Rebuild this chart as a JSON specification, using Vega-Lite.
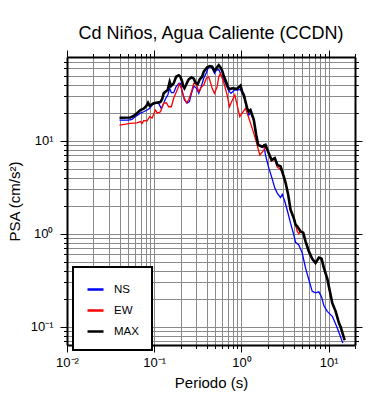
{
  "$schema": "https://vega.github.io/schema/vega-lite/v6.json",
  "width": 288,
  "height": 288,
  "autosize": {"type": "none"},
  "padding": {"left": 67, "top": 57, "right": 35, "bottom": 55},
  "background": "white",
  "title": {"text": "Cd Niños, Agua Caliente (CCDN)", "font": "Liberation Sans", "fontSize": 18, "fontWeight": "normal", "anchor": "middle", "offset": 7, "color": "black"},
  "datasets": {
    "psa": [
      {"s":"NS","T":0.040,"v":16.6},{"s":"NS","T":0.051,"v":16.6},{"s":"NS","T":0.0556,"v":16.9},{"s":"NS","T":0.0607,"v":18.1},{"s":"NS","T":0.0693,"v":19.7},{"s":"NS","T":0.0757,"v":20.4},{"s":"NS","T":0.0828,"v":21.3},{"s":"NS","T":0.0887,"v":22.2},{"s":"NS","T":0.0945,"v":24.1},{"s":"NS","T":0.103,"v":25.2},{"s":"NS","T":0.112,"v":25.2},{"s":"NS","T":0.120,"v":22.2},{"s":"NS","T":0.126,"v":24.1},{"s":"NS","T":0.134,"v":27.8},{"s":"NS","T":0.143,"v":30.9},{"s":"NS","T":0.150,"v":36.4},{"s":"NS","T":0.157,"v":32.7},{"s":"NS","T":0.167,"v":32.7},{"s":"NS","T":0.178,"v":37.9},{"s":"NS","T":0.191,"v":41.2},{"s":"NS","T":0.1995,"v":41.2},{"s":"NS","T":0.209,"v":33.5},{"s":"NS","T":0.222,"v":27.3},{"s":"NS","T":0.238,"v":25.2},{"s":"NS","T":0.253,"v":26.2},{"s":"NS","T":0.267,"v":32.2},{"s":"NS","T":0.284,"v":38.5},{"s":"NS","T":0.305,"v":36.4},{"s":"NS","T":0.324,"v":32.2},{"s":"NS","T":0.345,"v":37.9},{"s":"NS","T":0.369,"v":46.7},{"s":"NS","T":0.393,"v":52.7},{"s":"NS","T":0.414,"v":59.7},{"s":"NS","T":0.433,"v":63.2},{"s":"NS","T":0.461,"v":59.7},{"s":"NS","T":0.490,"v":52.7},{"s":"NS","T":0.516,"v":57.3},{"s":"NS","T":0.549,"v":58.0},{"s":"NS","T":0.584,"v":50.6},{"s":"NS","T":0.627,"v":44.8},{"s":"NS","T":0.669,"v":39.5},{"s":"NS","T":0.712,"v":34.4},{"s":"NS","T":0.758,"v":32.2},{"s":"NS","T":0.830,"v":34.9},{"s":"NS","T":0.893,"v":34.9},{"s":"NS","T":0.975,"v":35.5},{"s":"NS","T":1.063,"v":30.0},{"s":"NS","T":1.162,"v":22.0},{"s":"NS","T":1.213,"v":18.8},{"s":"NS","T":1.268,"v":20.0},{"s":"NS","T":1.384,"v":16.5},{"s":"NS","T":1.475,"v":11.5},{"s":"NS","T":1.555,"v":9.0},{"s":"NS","T":1.729,"v":8.6},{"s":"NS","T":1.803,"v":9.0},{"s":"NS","T":1.885,"v":7.0},{"s":"NS","T":2.057,"v":5.06},{"s":"NS","T":2.21,"v":4.11},{"s":"NS","T":2.41,"v":3.09},{"s":"NS","T":2.57,"v":2.73},{"s":"NS","T":2.80,"v":2.45},{"s":"NS","T":2.93,"v":2.65},{"s":"NS","T":3.14,"v":2.22},{"s":"NS","T":3.34,"v":1.8},{"s":"NS","T":3.65,"v":1.3},{"s":"NS","T":3.98,"v":0.975},{"s":"NS","T":4.17,"v":0.81},{"s":"NS","T":4.54,"v":0.76},{"s":"NS","T":4.97,"v":0.62},{"s":"NS","T":5.42,"v":0.43},{"s":"NS","T":5.92,"v":0.32},{"s":"NS","T":6.47,"v":0.241},{"s":"NS","T":7.06,"v":0.232},{"s":"NS","T":7.71,"v":0.238},{"s":"NS","T":8.28,"v":0.21},{"s":"NS","T":8.79,"v":0.17},{"s":"NS","T":9.62,"v":0.147},{"s":"NS","T":11.0,"v":0.13},{"s":"NS","T":12.5,"v":0.098},{"s":"NS","T":14.5,"v":0.067},
      {"s":"EW","T":0.040,"v":14.7},{"s":"EW","T":0.0532,"v":15.3},{"s":"EW","T":0.0635,"v":15.5},{"s":"EW","T":0.0693,"v":16.0},{"s":"EW","T":0.0724,"v":15.3},{"s":"EW","T":0.0757,"v":16.4},{"s":"EW","T":0.0828,"v":16.3},{"s":"EW","T":0.0887,"v":18.1},{"s":"EW","T":0.0945,"v":17.5},{"s":"EW","T":0.103,"v":21.3},{"s":"EW","T":0.109,"v":19.7},{"s":"EW","T":0.118,"v":20.4},{"s":"EW","T":0.128,"v":25.2},{"s":"EW","T":0.138,"v":25.5},{"s":"EW","T":0.146,"v":23.1},{"s":"EW","T":0.157,"v":23.1},{"s":"EW","T":0.167,"v":28.5},{"s":"EW","T":0.183,"v":34.9},{"s":"EW","T":0.195,"v":40.5},{"s":"EW","T":0.205,"v":36.4},{"s":"EW","T":0.218,"v":29.6},{"s":"EW","T":0.234,"v":25.5},{"s":"EW","T":0.248,"v":27.3},{"s":"EW","T":0.267,"v":33.5},{"s":"EW","T":0.284,"v":41.2},{"s":"EW","T":0.303,"v":40.5},{"s":"EW","T":0.324,"v":33.5},{"s":"EW","T":0.345,"v":37.3},{"s":"EW","T":0.369,"v":39.5},{"s":"EW","T":0.396,"v":46.7},{"s":"EW","T":0.420,"v":48.5},{"s":"EW","T":0.439,"v":42.9},{"s":"EW","T":0.461,"v":36.4},{"s":"EW","T":0.490,"v":32.2},{"s":"EW","T":0.526,"v":37.9},{"s":"EW","T":0.549,"v":48.5},{"s":"EW","T":0.574,"v":52.7},{"s":"EW","T":0.601,"v":46.7},{"s":"EW","T":0.638,"v":39.5},{"s":"EW","T":0.684,"v":31.0},{"s":"EW","T":0.729,"v":23.1},{"s":"EW","T":0.782,"v":27.0},{"s":"EW","T":0.838,"v":30.9},{"s":"EW","T":0.893,"v":24.0},{"s":"EW","T":0.955,"v":18.1},{"s":"EW","T":1.111,"v":22.2},{"s":"EW","T":1.213,"v":17.5},{"s":"EW","T":1.326,"v":13.6},{"s":"EW","T":1.475,"v":9.75},{"s":"EW","T":1.622,"v":7.0},{"s":"EW","T":1.803,"v":7.9},{"s":"EW","T":1.885,"v":8.6},{"s":"EW","T":2.057,"v":7.2},{"s":"EW","T":2.21,"v":6.0},{"s":"EW","T":2.41,"v":6.4},{"s":"EW","T":2.57,"v":5.2},{"s":"EW","T":2.80,"v":4.9},{"s":"EW","T":2.93,"v":4.6},{"s":"EW","T":3.20,"v":3.5},{"s":"EW","T":3.43,"v":2.6},{"s":"EW","T":3.65,"v":1.8},{"s":"EW","T":3.98,"v":1.45},{"s":"EW","T":4.17,"v":1.23},{"s":"EW","T":4.36,"v":1.06},{"s":"EW","T":4.54,"v":1.0},{"s":"EW","T":4.75,"v":1.05},{"s":"EW","T":5.10,"v":1.02},{"s":"EW","T":5.42,"v":0.83},{"s":"EW","T":5.67,"v":0.73},{"s":"EW","T":5.92,"v":0.647},{"s":"EW","T":6.47,"v":0.54},{"s":"EW","T":7.06,"v":0.485},{"s":"EW","T":7.71,"v":0.555},{"s":"EW","T":8.28,"v":0.54},{"s":"EW","T":8.79,"v":0.43},{"s":"EW","T":9.62,"v":0.33},{"s":"EW","T":10.3,"v":0.241},{"s":"EW","T":10.99,"v":0.18},{"s":"EW","T":12.0,"v":0.147},{"s":"EW","T":13.1,"v":0.11},{"s":"EW","T":13.7,"v":0.10},{"s":"EW","T":15.2,"v":0.072},
      {"s":"MAX","T":0.040,"v":17.6},{"s":"MAX","T":0.0532,"v":17.7},{"s":"MAX","T":0.0581,"v":18.4},{"s":"MAX","T":0.0635,"v":19.7},{"s":"MAX","T":0.0693,"v":21.3},{"s":"MAX","T":0.0757,"v":22.0},{"s":"MAX","T":0.0813,"v":23.6},{"s":"MAX","T":0.0849,"v":25.5},{"s":"MAX","T":0.0887,"v":23.6},{"s":"MAX","T":0.0986,"v":25.2},{"s":"MAX","T":0.1177,"v":26.0},{"s":"MAX","T":0.1230,"v":27.8},{"s":"MAX","T":0.1283,"v":32.2},{"s":"MAX","T":0.1342,"v":33.5},{"s":"MAX","T":0.1426,"v":34.9},{"s":"MAX","T":0.1503,"v":42.9},{"s":"MAX","T":0.156,"v":38.5},{"s":"MAX","T":0.167,"v":41.2},{"s":"MAX","T":0.178,"v":48.5},{"s":"MAX","T":0.191,"v":50.2},{"s":"MAX","T":0.1995,"v":48.5},{"s":"MAX","T":0.209,"v":42.9},{"s":"MAX","T":0.214,"v":38.5},{"s":"MAX","T":0.222,"v":36.4},{"s":"MAX","T":0.234,"v":40.5},{"s":"MAX","T":0.248,"v":45.5},{"s":"MAX","T":0.267,"v":47.8},{"s":"MAX","T":0.284,"v":46.2},{"s":"MAX","T":0.297,"v":41.9},{"s":"MAX","T":0.315,"v":40.5},{"s":"MAX","T":0.333,"v":45.5},{"s":"MAX","T":0.354,"v":48.5},{"s":"MAX","T":0.369,"v":54.9},{"s":"MAX","T":0.404,"v":61.2},{"s":"MAX","T":0.433,"v":63.2},{"s":"MAX","T":0.461,"v":62.2},{"s":"MAX","T":0.490,"v":56.2},{"s":"MAX","T":0.516,"v":59.7},{"s":"MAX","T":0.549,"v":64.7},{"s":"MAX","T":0.574,"v":61.2},{"s":"MAX","T":0.601,"v":56.2},{"s":"MAX","T":0.627,"v":49.3},{"s":"MAX","T":0.655,"v":44.8},{"s":"MAX","T":0.697,"v":37.9},{"s":"MAX","T":0.735,"v":35.6},{"s":"MAX","T":0.782,"v":36.4},{"s":"MAX","T":0.893,"v":36.1},{"s":"MAX","T":0.975,"v":39.0},{"s":"MAX","T":1.019,"v":33.5},{"s":"MAX","T":1.063,"v":30.9},{"s":"MAX","T":1.162,"v":22.2},{"s":"MAX","T":1.213,"v":20.5},{"s":"MAX","T":1.268,"v":21.3},{"s":"MAX","T":1.384,"v":16.7},{"s":"MAX","T":1.475,"v":11.5},{"s":"MAX","T":1.555,"v":9.0},{"s":"MAX","T":1.729,"v":8.6},{"s":"MAX","T":1.885,"v":9.0},{"s":"MAX","T":2.057,"v":7.3},{"s":"MAX","T":2.21,"v":6.2},{"s":"MAX","T":2.41,"v":6.5},{"s":"MAX","T":2.57,"v":5.5},{"s":"MAX","T":2.80,"v":5.3},{"s":"MAX","T":2.93,"v":4.66},{"s":"MAX","T":3.20,"v":3.55},{"s":"MAX","T":3.43,"v":2.62},{"s":"MAX","T":3.65,"v":1.81},{"s":"MAX","T":3.98,"v":1.47},{"s":"MAX","T":4.17,"v":1.25},{"s":"MAX","T":4.36,"v":1.20},{"s":"MAX","T":4.75,"v":1.06},{"s":"MAX","T":5.10,"v":1.03},{"s":"MAX","T":5.42,"v":0.83},{"s":"MAX","T":5.67,"v":0.73},{"s":"MAX","T":5.92,"v":0.647},{"s":"MAX","T":6.47,"v":0.54},{"s":"MAX","T":7.06,"v":0.485},{"s":"MAX","T":7.71,"v":0.555},{"s":"MAX","T":8.28,"v":0.54},{"s":"MAX","T":8.79,"v":0.43},{"s":"MAX","T":9.62,"v":0.33},{"s":"MAX","T":10.3,"v":0.241},{"s":"MAX","T":10.99,"v":0.18},{"s":"MAX","T":12.0,"v":0.147},{"s":"MAX","T":13.1,"v":0.11},{"s":"MAX","T":13.7,"v":0.10},{"s":"MAX","T":15.2,"v":0.072}
    ]
  },
  "data": {"name": "psa"},
  "layer": [
    {
      "layer": [
        {
          "transform": [{"filter": "datum.s != 'MAX'"}],
          "mark": {"type": "line", "clip": true, "strokeWidth": 1.3},
          "encoding": {
            "x": {"field": "T", "type": "quantitative",
              "scale": {"type": "log", "domain": [0.01, 20], "nice": false},
              "axis": {"orient": "bottom", "title": "Periodo (s)",
                "values": [0.01,0.02,0.03,0.04,0.05,0.06,0.07,0.08,0.09,0.1,0.2,0.3,0.4,0.5,0.6,0.7,0.8,0.9,1,2,3,4,5,6,7,8,9,10,20],
                "labelExpr": "datum.value == 0.01 ? '10⁻²' : datum.value == 0.1 ? '10⁻¹' : datum.value == 1 ? '10⁰' : datum.value == 10 ? '10¹' : ''",
                "tickSize": {"condition": {"test": "datum.value == 0.01 || datum.value == 0.1 || datum.value == 1 || datum.value == 10", "value": 7}, "value": 3.5},
                "grid": true, "labelOverlap": false, "labelBound": false, "labelFlush": false, "labelPadding": 4, "titlePadding": 6}},
            "y": {"field": "v", "type": "quantitative",
              "scale": {"type": "log", "domain": [0.064, 79], "nice": false},
              "axis": {"orient": "left", "title": "PSA (cm/s²)",
                "values": [0.07,0.08,0.09,0.1,0.2,0.3,0.4,0.5,0.6,0.7,0.8,0.9,1,2,3,4,5,6,7,8,9,10,20,30,40,50,60,70],
                "labelExpr": "datum.value == 0.1 ? '10⁻¹' : datum.value == 1 ? '10⁰' : datum.value == 10 ? '10¹' : ''",
                "tickSize": {"condition": {"test": "datum.value == 0.1 || datum.value == 1 || datum.value == 10", "value": 7}, "value": 3.5},
                "grid": true, "labelOverlap": false, "labelBound": false, "labelFlush": false, "labelPadding": 7, "titlePadding": 8}},
            "color": {"field": "s", "type": "nominal",
              "scale": {"domain": ["NS", "EW", "MAX"], "range": ["#0000ff", "#ff0000", "#000000"]},
              "legend": {"title": null}}
          }
        },
        {
          "transform": [{"filter": "datum.s == 'MAX'"}],
          "mark": {"type": "line", "clip": true, "strokeWidth": 2.6},
          "encoding": {
            "x": {"field": "T", "type": "quantitative"},
            "y": {"field": "v", "type": "quantitative"},
            "color": {"field": "s", "type": "nominal"}
          }
        }
      ]
    },
    {
      "mark": {"type": "point", "opacity": 0},
      "encoding": {
        "x": {"field": "T", "type": "quantitative",
          "axis": {"orient": "top", "title": null, "labels": false, "grid": false,
            "values": [0.01,0.02,0.03,0.04,0.05,0.06,0.07,0.08,0.09,0.1,0.2,0.3,0.4,0.5,0.6,0.7,0.8,0.9,1,2,3,4,5,6,7,8,9,10,20],
            "tickSize": {"condition": {"test": "datum.value == 0.01 || datum.value == 0.1 || datum.value == 1 || datum.value == 10", "value": 7}, "value": 3.5}}},
        "y": {"field": "v", "type": "quantitative",
          "axis": {"orient": "right", "title": null, "labels": false, "grid": false,
            "values": [0.07,0.08,0.09,0.1,0.2,0.3,0.4,0.5,0.6,0.7,0.8,0.9,1,2,3,4,5,6,7,8,9,10,20,30,40,50,60,70],
            "tickSize": {"condition": {"test": "datum.value == 0.1 || datum.value == 1 || datum.value == 10", "value": 7}, "value": 3.5}}}
      }
    }
  ],
  "resolve": {"axis": {"x": "independent", "y": "independent"}},
  "config": {
    "view": {"stroke": null},
    "font": "Liberation Sans",
    "axis": {
      "domain": true, "domainColor": "black", "domainWidth": 2,
      "tickColor": "black", "tickWidth": 1,
      "gridColor": "#8a8a8a", "gridWidth": 1, "gridOpacity": 1,
      "labelFont": "Liberation Sans", "labelFontSize": 13, "labelColor": "black",
      "titleFont": "Liberation Sans", "titleFontSize": 15, "titleFontWeight": "normal", "titleColor": "black"
    },
    "legend": {
      "orient": "none", "legendX": 6, "legendY": 210,
      "fillColor": "white", "strokeColor": "black", "strokeWidth": 2,
      "padding": 13, "rowPadding": 6,
      "labelFont": "Liberation Sans", "labelFontSize": 11.5, "labelColor": "black", "labelOffset": 9,
      "symbolType": "stroke", "symbolStrokeWidth": 2.5, "symbolSize": 256
    }
  }
}
